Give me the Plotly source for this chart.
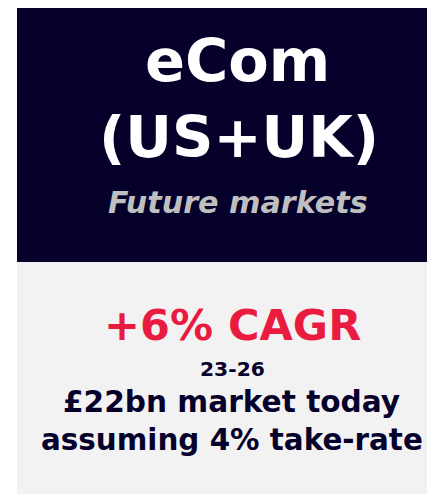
import plotly.graph_objects as go

W, H = 435, 494
OFF = 8  # page body margin around the plot div

title_lines = ["eCom", "(US+UK)"]
subtitle = "Future markets"
headline = "+6% CAGR"
period = "23-26"
detail_lines = ["£22bn market today", "assuming 4% take-rate"]

NAVY = "#05012b"
GREY_BG = "#f2f2f2"
RED = "#ea1b40"
SUB_GREY = "#bfbfbf"
FONT = "'DejaVu Sans', Verdana, sans-serif"

fig = go.Figure()
fig.update_layout(
    width=W, height=H,
    margin=dict(l=0, r=0, t=0, b=0),
    paper_bgcolor="white", plot_bgcolor="white",
    xaxis=dict(visible=False, range=[0, 1]),
    yaxis=dict(visible=False, range=[0, 1]),
    showlegend=False,
)

def px(x):
    return (x - OFF) / W

def py(y):
    return 1 - (y - OFF) / H

fig.add_shape(type="rect", xref="paper", yref="paper",
              x0=px(17), x1=1.0, y0=py(262), y1=1.0,
              fillcolor=NAVY, line_width=0, layer="below")
fig.add_shape(type="rect", xref="paper", yref="paper",
              x0=px(17), x1=1.0, y0=0.0, y1=py(262),
              fillcolor=GREY_BG, line_width=0, layer="below")

items = [
    (title_lines[0], 237.5, 60, 59, "white", "normal"),
    (title_lines[1], 239, 137, 57.5, "white", "normal"),
    (subtitle, 237.5, 202, 30.2, SUB_GREY, "italic"),
    (headline, 232.5, 325, 43, RED, "normal"),
    (period, 232.5, 369, 20.3, NAVY, "normal"),
    (detail_lines[0], 231.5, 402, 29.6, NAVY, "normal"),
    (detail_lines[1], 232, 440, 29.4, NAVY, "normal"),
]

for text, x, y, size, color, style in items:
    fig.add_annotation(
        text=text, xref="paper", yref="paper",
        x=px(x), y=py(y), xanchor="center", yanchor="middle",
        showarrow=False,
        font=dict(family=FONT, size=size, color=color, weight="bold", style=style),
    )

fig.write_html("out.html")
